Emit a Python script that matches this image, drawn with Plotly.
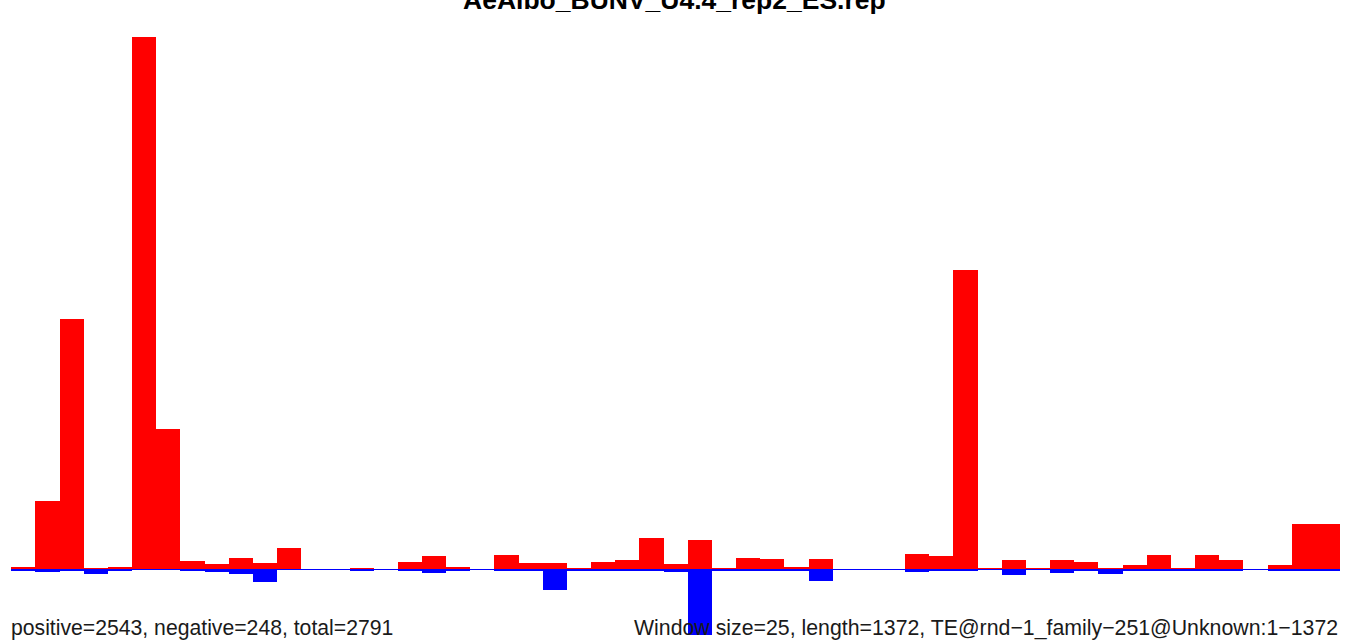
import plotly.graph_objects as go

title = "AeAlbo_BUNV_U4.4_rep2_ES.rep"
window_size = 25
seq_length = 1372
left_note = "positive=2543, negative=248, total=2791"
right_note = "Window size=25, length=1372, TE@rnd\u22121_family\u2212251@Unknown:1\u22121372"

windows = list(range(55))
positive = [3, 101, 368, 2, 4, 783, 207, 12, 8, 17, 10, 32, 0, 0, 2, 0, 11, 20, 4, 0,
            21, 10, 10, 2, 11, 14, 46, 8, 43, 2, 17, 15, 4, 15, 0, 0, 0, 23, 20, 440,
            2, 14, 1, 14, 11, 2, 7, 21, 2, 21, 14, 0, 7, 67, 67]
negative = [2, 4, 1, 6, 1, 0, 0, 2, 4, 7, 18, 0, 0, 0, 1, 0, 1, 5, 2, 0,
            2, 1, 30, 1, 1, 1, 1, 4, 96, 1, 1, 1, 2, 17, 0, 0, 0, 4, 1, 1,
            0, 8, 0, 5, 1, 7, 1, 1, 2, 1, 2, 0, 1, 2, 2]

centers = [w * window_size + window_size / 2 for w in windows]

fig = go.Figure()
fig.add_trace(go.Bar(x=centers, y=positive, width=window_size,
                     marker=dict(color="#FF0000", line=dict(width=0)),
                     hoverinfo="skip", showlegend=False))
fig.add_trace(go.Bar(x=centers, y=[-v for v in negative], width=window_size,
                     marker=dict(color="#0000FF", line=dict(width=0)),
                     hoverinfo="skip", showlegend=False))

fig.add_shape(type="line", xref="x", yref="y",
              x0=0, x1=len(windows) * window_size, y0=0, y1=0,
              line=dict(color="#0000FF", width=1))

fig.update_layout(
    width=1349, height=641,
    margin=dict(l=0, r=0, t=0, b=0),
    paper_bgcolor="white", plot_bgcolor="white",
    barmode="overlay", bargap=0,
    xaxis=dict(range=[-11.7, 1384.3], visible=False, fixedrange=True),
    yaxis=dict(range=[-105.1, 837.2], visible=False, fixedrange=True),
    font=dict(family="Liberation Sans, Arial, sans-serif", color="black"),
)

fig.add_annotation(text="<b>" + title + "</b>", xref="paper", yref="paper",
                   x=0.5, y=1, xanchor="center", yanchor="bottom", yshift=-17,
                   showarrow=False, font=dict(size=26.5, color="black"))
fig.add_annotation(text=left_note, xref="paper", yref="paper",
                   x=0, y=0, xanchor="left", yanchor="bottom", xshift=9, yshift=-1,
                   showarrow=False, font=dict(size=21.2, color="#1a1a1a"))
fig.add_annotation(text=right_note, xref="paper", yref="paper",
                   x=1, y=0, xanchor="right", yanchor="bottom", xshift=-9, yshift=-1,
                   showarrow=False, font=dict(size=21.3, color="#1a1a1a"))

fig.write_html("out.html", config={"displayModeBar": False},
               post_script="document.body.style.margin='0';document.body.style.overflow='hidden';")
